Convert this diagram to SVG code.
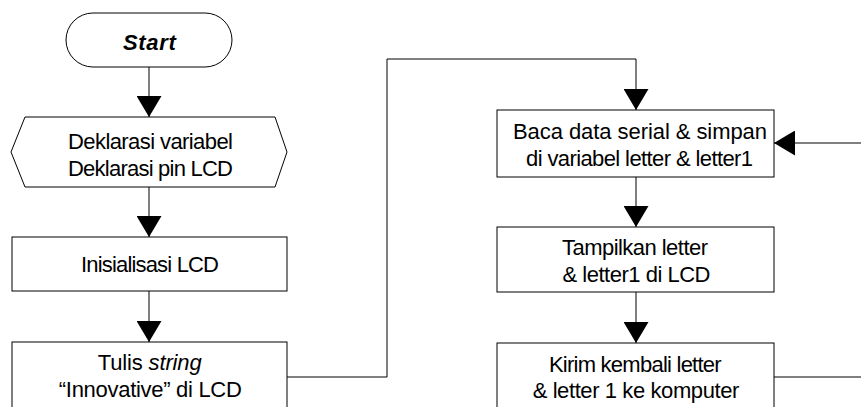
<svg xmlns="http://www.w3.org/2000/svg" width="861" height="407" viewBox="0 0 861 407">
<style>
.shape{fill:#fff;stroke:#000;stroke-width:1}
.conn{fill:none;stroke:#000;stroke-width:1}
.arr{marker-end:url(#ah)}
text{font-family:"Liberation Sans",Arial,sans-serif;font-size:22px;fill:#000;text-anchor:middle}
.b{font-weight:bold;font-style:italic;font-size:22px}
.i{font-style:italic}
</style>
<defs>
<marker id="ah" viewBox="0 0 21 25" refX="21" refY="12.5" markerWidth="21" markerHeight="25" markerUnits="userSpaceOnUse" orient="auto">
<path d="M0,0 L21,12.5 L0,25 Z" fill="#000"/>
</marker>
</defs>
<rect width="861" height="407" fill="#fff"/>
<g id="connectors">
<path class="conn arr" d="M149,67 V117"/>
<path class="conn arr" d="M149,187 V237"/>
<path class="conn arr" d="M149,291 V342"/>
<path class="conn arr" d="M287,377 H387 V59 H636 V110"/>
<path class="conn arr" d="M636,177 V227"/>
<path class="conn arr" d="M636,292 V343"/>
<path class="conn" d="M774,377 H861"/>
<path class="conn arr" d="M861,143 H774"/>
</g>
<g id="start">
<rect class="shape" x="66" y="13" width="166" height="54" rx="27" ry="27"/>
<text class="b" x="149.4" y="50" textLength="53" lengthAdjust="spacing">Start</text>
</g>
<g id="deklarasi">
<polygon class="shape" points="25,117 275,117 287,152 275,187 25,187 11,152"/>
<text x="150.5" y="149" textLength="165" lengthAdjust="spacing">Deklarasi variabel</text>
<text x="150.5" y="176" textLength="165" lengthAdjust="spacing">Deklarasi pin LCD</text>
</g>
<g id="inisialisasi">
<rect class="shape" x="12" y="237" width="275" height="54"/>
<text x="150" y="272" textLength="138" lengthAdjust="spacing">Inisialisasi LCD</text>
</g>
<g id="tulis">
<rect class="shape" x="12" y="342" width="275" height="80"/>
<text x="149.7" y="370" textLength="104" lengthAdjust="spacing">Tulis <tspan class="i">string</tspan></text>
<text x="150.3" y="396.5" textLength="183" lengthAdjust="spacing">“Innovative” di LCD</text>
</g>
<g id="baca">
<rect class="shape" x="497" y="110" width="277" height="67"/>
<text x="640" y="138.5" textLength="254" lengthAdjust="spacing">Baca data serial &amp; simpan</text>
<text x="639.5" y="166" textLength="227" lengthAdjust="spacing">di variabel letter &amp; letter1</text>
</g>
<g id="tampilkan">
<rect class="shape" x="497" y="227" width="277" height="65"/>
<text x="635" y="254.5" textLength="146" lengthAdjust="spacing">Tampilkan letter</text>
<text x="636.5" y="281.5" textLength="148" lengthAdjust="spacing">&amp; letter1 di LCD</text>
</g>
<g id="kirim">
<rect class="shape" x="497" y="343" width="277" height="80"/>
<text x="635.3" y="371.5" textLength="172.7" lengthAdjust="spacing">Kirim kembali letter</text>
<text x="636" y="398" textLength="206.7" lengthAdjust="spacing">&amp; letter 1 ke komputer</text>
</g>
</svg>
